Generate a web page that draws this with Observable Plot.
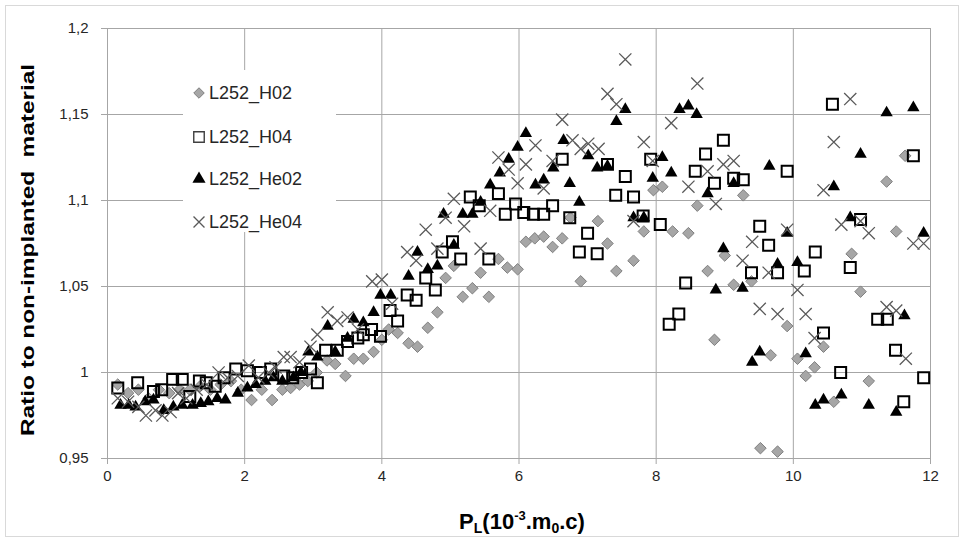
<!DOCTYPE html>
<html><head><meta charset="utf-8">
<script src="https://cdn.jsdelivr.net/npm/d3@7"></script>
<script src="https://cdn.jsdelivr.net/npm/@observablehq/plot@0.6"></script>
<style>
body{margin:0;background:#fff;}
#chart{position:relative;width:964px;height:539px;}
#border{position:absolute;left:5px;top:5px;width:954px;height:532px;border:1px solid #d9d9d9;box-sizing:border-box;pointer-events:none}
</style></head><body><div id="chart"><div id="border"></div></div>
<script>
const seriesNames = ["L252_H02", "L252_H04", "L252_He02", "L252_He04"];
const xTicks = [0, 2, 4, 6, 8, 10, 12];
const yTicks = [0.95, 1, 1.05, 1.1, 1.15, 1.2];
const yTickLabels = ["0,95", "1", "1,05", "1,1", "1,15", "1,2"];

const H02 = [[0.15,0.993],[0.3,0.988],[0.45,0.99],[0.6,0.985],[0.75,0.99],[0.9,0.988],[1.05,0.99],[1.2,0.99],[1.35,0.992],[1.5,0.99],[1.65,0.993],[1.8,0.995],[1.95,0.99],[2.1,0.984],[2.25,0.99],[2.4,0.984],[2.55,0.99],[2.67,0.991],[2.8,0.993],[2.92,0.995],[3.05,1.0],[3.2,1.007],[3.32,1.005],[3.47,0.998],[3.59,1.008],[3.73,1.008],[3.88,1.012],[4.0,1.019],[4.1,1.025],[4.23,1.023],[4.39,1.017],[4.52,1.015],[4.67,1.026],[4.81,1.035],[4.93,1.055],[5.05,1.062],[5.18,1.044],[5.32,1.049],[5.44,1.058],[5.56,1.044],[5.7,1.066],[5.83,1.061],[5.98,1.06],[6.1,1.076],[6.23,1.078],[6.36,1.079],[6.49,1.073],[6.63,1.078],[6.75,1.09],[6.9,1.053],[7.15,1.088],[7.29,1.075],[7.42,1.059],[7.67,1.065],[7.82,1.082],[7.96,1.106],[8.09,1.108],[8.24,1.082],[8.47,1.081],[8.6,1.097],[8.75,1.059],[8.85,1.019],[9.0,1.068],[9.13,1.051],[9.27,1.103],[9.39,1.053],[9.52,0.956],[9.67,1.01],[9.77,0.954],[9.91,1.027],[10.06,1.008],[10.18,0.998],[10.31,1.003],[10.44,1.015],[10.59,0.983],[10.85,1.069],[10.98,1.047],[11.1,0.995],[11.36,1.111],[11.5,1.082],[11.63,1.126]];

const H04 = [[0.15,0.991],[0.44,0.994],[0.67,0.989],[0.79,0.99],[0.95,0.996],[1.09,0.996],[1.2,0.986],[1.34,0.995],[1.44,0.994],[1.57,0.992],[1.7,0.997],[1.87,1.002],[2.04,1.001],[2.23,1.0],[2.38,1.002],[2.57,0.998],[2.7,0.997],[2.83,1.0],[2.96,1.002],[3.06,0.994],[3.18,1.013],[3.35,1.013],[3.5,1.018],[3.65,1.02],[3.73,1.022],[3.85,1.025],[3.98,1.021],[4.12,1.036],[4.23,1.03],[4.37,1.045],[4.5,1.042],[4.64,1.055],[4.78,1.048],[4.88,1.07],[5.03,1.076],[5.15,1.066],[5.29,1.102],[5.42,1.097],[5.56,1.066],[5.7,1.104],[5.8,1.092],[5.95,1.098],[6.07,1.093],[6.21,1.092],[6.36,1.092],[6.49,1.097],[6.63,1.124],[6.74,1.09],[6.88,1.07],[7.0,1.081],[7.14,1.069],[7.29,1.121],[7.41,1.103],[7.55,1.114],[7.67,1.102],[7.81,1.091],[7.92,1.124],[8.06,1.086],[8.19,1.028],[8.33,1.034],[8.43,1.052],[8.57,1.117],[8.72,1.127],[8.85,1.11],[8.98,1.135],[9.13,1.113],[9.27,1.112],[9.39,1.058],[9.51,1.085],[9.64,1.074],[9.77,1.058],[9.91,1.117],[10.16,1.059],[10.32,1.07],[10.44,1.023],[10.57,1.156],[10.69,1.0],[10.83,1.061],[10.98,1.089],[11.23,1.031],[11.37,1.031],[11.49,1.013],[11.61,0.983],[11.75,1.126],[11.9,0.997]];

const He02 = [[0.19,0.981],[0.31,0.981],[0.41,0.98],[0.55,0.983],[0.67,0.984],[0.82,0.978],[0.96,0.98],[1.09,0.981],[1.24,0.981],[1.36,0.982],[1.47,0.983],[1.6,0.985],[1.72,0.984],[1.9,0.988],[2.04,0.991],[2.16,0.993],[2.3,0.995],[2.42,0.997],[2.55,0.995],[2.71,0.997],[2.82,1.0],[2.93,1.012],[3.06,1.009],[3.21,1.027],[3.32,1.012],[3.5,1.02],[3.59,1.031],[3.73,1.029],[3.88,1.035],[3.98,1.045],[4.13,1.045],[4.39,1.056],[4.52,1.07],[4.67,1.06],[4.81,1.062],[4.9,1.092],[5.05,1.074],[5.18,1.092],[5.32,1.092],[5.44,1.099],[5.58,1.109],[5.72,1.116],[5.85,1.124],[5.98,1.131],[6.1,1.139],[6.24,1.109],[6.36,1.112],[6.5,1.119],[6.65,1.135],[6.74,1.11],[6.88,1.099],[7.01,1.126],[7.14,1.119],[7.29,1.12],[7.42,1.146],[7.55,1.153],[7.67,1.09],[7.82,1.09],[7.95,1.113],[8.09,1.125],[8.22,1.116],[8.34,1.153],[8.47,1.155],[8.59,1.15],[8.75,1.104],[8.87,1.048],[8.98,1.072],[9.13,1.11],[9.26,1.049],[9.4,1.006],[9.51,1.012],[9.65,1.12],[9.77,1.063],[9.91,1.081],[10.06,1.064],[10.18,1.011],[10.32,0.981],[10.44,0.984],[10.59,1.108],[10.7,0.987],[10.83,1.09],[10.98,1.127],[11.1,0.981],[11.36,1.151],[11.5,0.977],[11.62,1.033],[11.75,1.154],[11.9,1.081]];

const He04 = [[0.15,0.985],[0.3,0.983],[0.45,0.98],[0.56,0.975],[0.7,0.978],[0.8,0.975],[0.92,0.977],[1.03,0.988],[1.15,0.985],[1.3,0.99],[1.45,0.993],[1.62,1.0],[1.75,0.997],[1.9,0.998],[2.06,1.004],[2.2,0.997],[2.35,1.0],[2.45,1.003],[2.57,1.009],[2.67,1.009],[2.8,1.006],[2.96,1.015],[3.06,1.022],[3.21,1.035],[3.35,1.03],[3.5,1.032],[3.65,1.025],[3.86,1.053],[4.0,1.054],[4.15,1.04],[4.37,1.07],[4.5,1.065],[4.64,1.083],[4.81,1.072],[4.93,1.09],[5.05,1.101],[5.2,1.085],[5.44,1.072],[5.58,1.094],[5.7,1.125],[5.85,1.118],[5.98,1.11],[6.1,1.121],[6.24,1.132],[6.36,1.107],[6.49,1.123],[6.63,1.147],[6.78,1.135],[6.9,1.13],[7.01,1.133],[7.16,1.13],[7.29,1.162],[7.42,1.156],[7.55,1.182],[7.67,1.088],[7.82,1.134],[7.95,1.123],[8.22,1.145],[8.47,1.108],[8.6,1.168],[8.75,1.117],[8.87,1.098],[8.98,1.121],[9.13,1.123],[9.26,1.065],[9.4,1.076],[9.51,1.037],[9.64,1.058],[9.77,1.034],[9.91,1.083],[10.06,1.048],[10.18,1.034],[10.31,1.02],[10.44,1.106],[10.59,1.134],[10.7,1.086],[10.83,1.159],[10.98,1.088],[11.1,1.081],[11.36,1.038],[11.5,1.036],[11.64,1.008],[11.75,1.075],[11.9,1.075]];

const seriesData = [H02, H04, He02, He04];
const styles = [
  {symbol: "diamond2", r: 5.2, fill: "#a6a6a6", stroke: "#7f7f7f", strokeWidth: 1},
  {symbol: "square", r: 6.2, fill: "none", stroke: "#000", strokeWidth: 2},
  {symbol: "triangle", r: 4.6, fill: "#000", stroke: "none", strokeWidth: 0},
  {symbol: "times", r: 5.6, fill: "none", stroke: "#595959", strokeWidth: 1.3}
];
const table = seriesData.map((arr, i) => arr.map(([x, y]) => ({series: seriesNames[i], x, y})));

const fmtY = d => yTickLabels[yTicks.findIndex(v => Math.abs(v - d) < 1e-9)];
const font = "'Liberation Sans', Arial, sans-serif";

const plot = Plot.plot({
  width: 964, height: 539,
  marginLeft: 107, marginRight: 34, marginTop: 28, marginBottom: 81,
  x: {domain: [0, 12]},
  y: {domain: [0.95, 1.2]},
  style: {fontFamily: font, fontSize: "15px", color: "#262626", background: "transparent"},
  marks: [
    Plot.ruleY(yTicks, {stroke: "#a6a6a6", strokeWidth: 1}),
    Plot.ruleX(xTicks, {stroke: "#a6a6a6", strokeWidth: 1}),
    Plot.axisY({ticks: yTicks, tickFormat: fmtY, tickSize: 6, tickPadding: 13, stroke: "#a6a6a6", fill: "#262626", fontSize: 15, label: null}),
    Plot.axisX({ticks: xTicks, tickSize: 6, tickPadding: 6, stroke: "#a6a6a6", fill: "#262626", fontSize: 15, label: null}),
    ...table.map((d, i) => Plot.dot(d, {x: "x", y: "y", ...styles[i]}))
  ]
});
document.getElementById("chart").appendChild(plot);

const svg = d3.select(plot);
// Y axis title
svg.append("text")
  .attr("transform", "translate(34,250) rotate(-90)")
  .attr("text-anchor", "middle")
  .attr("font-family", font).attr("font-weight", "bold").attr("font-size", 19)
  .attr("fill", "#000")
  .attr("textLength", 372).attr("lengthAdjust", "spacingAndGlyphs")
  .text("Ratio to non-implanted  material");

// X axis title
const xt = svg.append("text")
  .attr("x", 522).attr("y", 529).attr("text-anchor", "middle")
  .attr("font-family", font).attr("font-weight", "bold").attr("font-size", 22).attr("fill", "#000");
xt.append("tspan").text("P");
xt.append("tspan").attr("font-size", 14).attr("dy", 4).text("L");
xt.append("tspan").attr("dy", -4).text("(10");
xt.append("tspan").attr("font-size", 13).attr("dy", -9).text("-3");
xt.append("tspan").attr("dy", 9).text(".m");
xt.append("tspan").attr("font-size", 14).attr("dy", 4).text("0");
xt.append("tspan").attr("dy", -4).text(".c)");

// Legend
const lg = svg.append("g");
lg.append("rect").attr("x", 183).attr("y", 70).attr("width", 153).attr("height", 162).attr("fill", "#ffffff").attr("stroke", "none");
const legendSym = [
  {type: d3.symbolDiamond2, size: 70, fill: "#a6a6a6", stroke: "#7f7f7f", sw: 1},
  {type: d3.symbolSquare, size: 110, fill: "none", stroke: "#404040", sw: 1.4},
  {type: d3.symbolTriangle, size: 75, fill: "#000", stroke: "none", sw: 0},
  {type: d3.symbolTimes, size: 80, fill: "none", stroke: "#595959", sw: 1.3}
];
const rowsY = [93, 137, 179, 222];
seriesNames.forEach((name, i) => {
  const s = legendSym[i];
  lg.append("path").attr("d", d3.symbol(s.type, s.size)())
    .attr("transform", `translate(199,${rowsY[i]})`)
    .attr("fill", s.fill).attr("stroke", s.stroke).attr("stroke-width", s.sw);
  lg.append("text").attr("x", 209).attr("y", rowsY[i]).attr("dy", "0.36em")
    .attr("text-anchor", "start")
    .attr("font-family", font).attr("font-size", 18).attr("fill", "#262626").text(name);
});
</script>
</body></html>
